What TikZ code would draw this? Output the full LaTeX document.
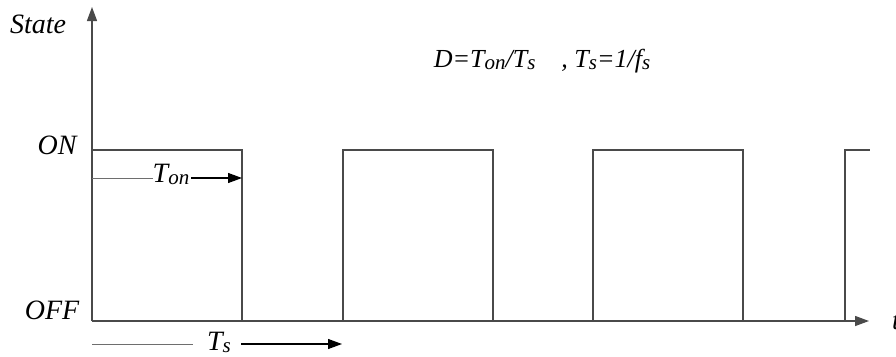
\documentclass[tikz,border=0pt]{standalone}
\usepackage{fontspec}
\setmainfont{Liberation Serif}
\usetikzlibrary{arrows.meta}
\definecolor{linecol}{HTML}{4A4A4A}
\tikzset{
  wave/.style={draw=linecol, line width=1.3pt},
  axis/.style={draw=linecol, line width=1.3pt, -{Triangle[length=14pt,width=10pt]}},
  lead/.style={draw=linecol!80, line width=0.8pt},
  dimarrow/.style={draw=black, line width=1.1pt, -{Triangle[length=14pt,width=10pt]}},
  lbl/.style={inner sep=0pt, font=\fontsize{28}{32}\selectfont\itshape},
}
\newcommand{\subtx}[1]{\raisebox{-2pt}{\fontsize{21}{24}\selectfont #1}}
\begin{document}
\begin{tikzpicture}[x=1pt,y=-1pt]
\useasboundingbox (0,0) rectangle (896,356);
% axes
\coordinate (O) at (92,321);
\coordinate (ytop) at (92,7);
\coordinate (xend) at (869,321);
\draw[axis] (O) -- (ytop);
\draw[axis] (O) -- (xend);
% waveform
\coordinate (p0) at (92,150);
\coordinate (f1t) at (242,150);
\coordinate (f1b) at (242,321);
\coordinate (r2b) at (343,321);
\coordinate (r2t) at (343,150);
\coordinate (f2t) at (493,150);
\coordinate (f2b) at (493,321);
\coordinate (r3b) at (593,321);
\coordinate (r3t) at (593,150);
\coordinate (f3t) at (743,150);
\coordinate (f3b) at (743,321);
\coordinate (r4b) at (845,321);
\coordinate (r4t) at (845,150);
\coordinate (p4e) at (870,150);
\draw[wave] (p0) -- (f1t) -- (f1b);
\draw[wave] (r2b) -- (r2t) -- (f2t) -- (f2b);
\draw[wave] (r3b) -- (r3t) -- (f3t) -- (f3b);
\draw[wave] (r4b) -- (r4t) -- (p4e);
% labels
\node[lbl] (state) at (38,24) {State};
\node[lbl] (on) at (57,145) {ON};
\node[lbl] (off) at (52,310) {OFF};
\node[lbl, anchor=west] (t) at (892,322) {t};
% Ton
\coordinate (tonL) at (92,178);
\coordinate (tonR) at (242,178);
\node[lbl] (ton) at (171,174) {T\subtx{on}};
\draw[lead] (tonL) -- (ton.west|-tonL);
\draw[dimarrow] (ton.east|-tonR) ++(2,0) -- (tonR);
% Ts
\coordinate (tsL) at (92,344);
\coordinate (tsR) at (342,344);
\node[lbl] (ts) at (219,342) {T\subtx{s}};
\draw[lead] (tsL) -- ([xshift=-14pt]ts.west|-tsL);
\draw[dimarrow] ([xshift=10pt]ts.east|-tsR) -- (tsR);
% formula
\node[inner sep=0pt, font=\fontsize{26}{30}\selectfont\itshape] (formula) at (542,61)
  {D=T\subtx{on}/T\subtx{s}\quad , T\subtx{s}=1/f\subtx{s}};
\end{tikzpicture}
\end{document}
